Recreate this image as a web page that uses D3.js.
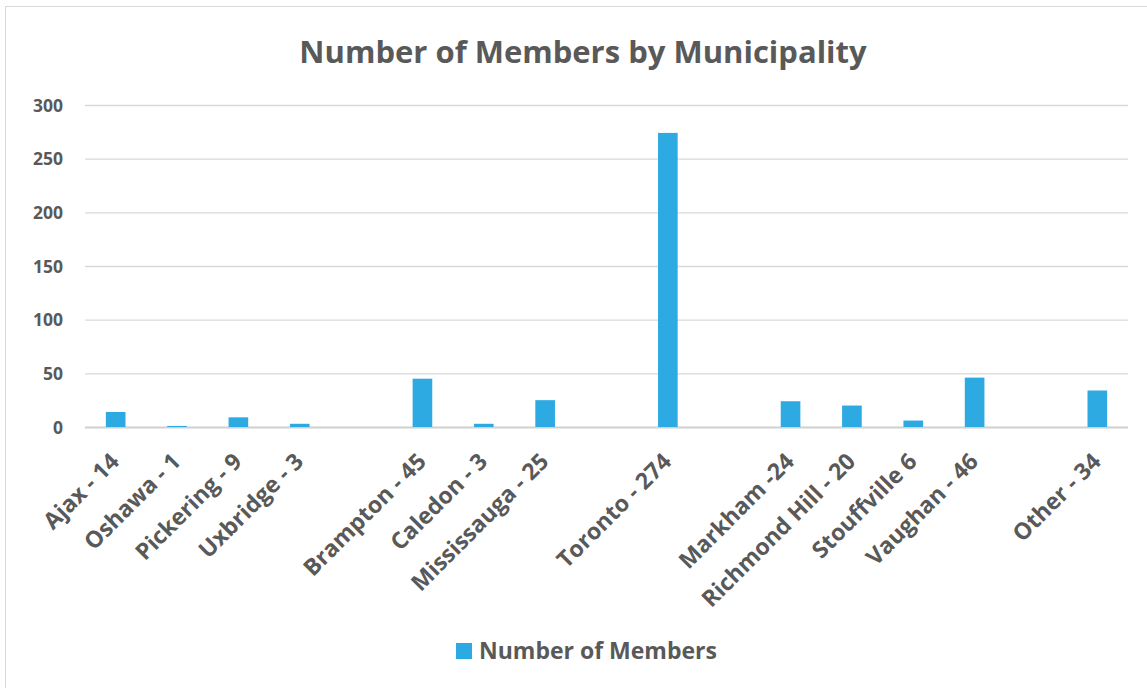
<!DOCTYPE html>
<html>
<head>
<meta charset="utf-8">
<script src="https://cdn.jsdelivr.net/npm/d3@7"></script>
<style>
  body { margin: 0; background: #fff; }
  text { font-family: "Open Sans", sans-serif; font-weight: bold; fill: #595959; }
</style>
</head>
<body>
<div class="wrap"></div>
<script>
// categories (blank slots are the empty gaps on the axis)
const categories = ["Ajax - 14", "Oshawa - 1", "Pickering - 9", "Uxbridge - 3", "",
  "Brampton - 45", "Caledon - 3", "Mississauga - 25", "", "Toronto - 274", "",
  "Markham -24", "Richmond Hill - 20", "Stouffville 6", "Vaughan - 46", "", "Other - 34"];
const members = [14, 1, 9, 3, null, 45, 3, 25, null, 274, null, 24, 20, 6, 46, null, 34];
const yTicks = [0, 50, 100, 150, 200, 250, 300];

const width = 1147, height = 688;
const margin = {left: 85, right: 19, top: 105, bottom: 261};
const barColor = "#2DAAE1";

const svg = d3.select(".wrap").append("svg")
    .attr("width", width)
    .attr("height", height);

// chart border
svg.append("rect")
    .attr("x", 5.5).attr("y", 6.5)
    .attr("width", width - 4).attr("height", height)
    .attr("fill", "none")
    .attr("stroke", "#d9d9d9");

const x = d3.scaleBand()
    .domain(d3.range(categories.length))
    .range([margin.left, width - margin.right])
    .paddingInner(0.68).paddingOuter(0.34);

const y = d3.scaleLinear()
    .domain([0, 300])
    .range([height - margin.bottom, margin.top]);

// grid
svg.append("g")
    .selectAll("line")
    .data(yTicks)
    .join("line")
    .attr("x1", margin.left).attr("x2", width - margin.right)
    .attr("y1", d => y(d) + 0.5).attr("y2", d => y(d) + 0.5)
    .attr("stroke", d => d === 0 ? "#d0d0d0" : "#d9d9d9")
    .attr("stroke-width", d => d === 0 ? 2 : 1.3);

// y labels
const yAxis = d3.axisLeft(y).tickValues(yTicks).tickSize(0).tickPadding(0);
svg.append("g")
    .attr("transform", "translate(63,0)")
    .call(yAxis)
    .call(g => g.select(".domain").remove())
    .selectAll("text")
    .attr("font-size", 17.5)
    .attr("dy", "0.35em")
    .style("font-family", "'Open Sans', sans-serif")
    .attr("fill", "#595959");

// bars
svg.append("g")
    .selectAll("rect")
    .data(members.map((v, i) => ({v, i})).filter(d => d.v !== null))
    .join("rect")
    .attr("x", d => x(d.i))
    .attr("width", x.bandwidth())
    .attr("y", d => y(d.v))
    .attr("height", d => y(0) - y(d.v))
    .attr("fill", barColor);

// x labels rotated
svg.append("g")
    .selectAll("text")
    .data(categories.map((c, i) => ({c, i})).filter(d => d.c !== ""))
    .join("text")
    .attr("transform", d => `translate(${x(d.i) + x.bandwidth() / 2 + 5},${463}) rotate(-45)`)
    .attr("text-anchor", "end")
    .attr("font-size", 23)
    .text(d => d.c);

// title
svg.append("text")
    .attr("x", 583).attr("y", 63)
    .attr("text-anchor", "middle")
    .attr("font-size", 31)
    .text("Number of Members by Municipality");

// legend
const legend = svg.append("g").attr("transform", "translate(456,643)");
legend.append("rect")
    .attr("width", 16).attr("height", 16)
    .attr("fill", barColor);
legend.append("text")
    .attr("x", 23).attr("y", 16)
    .attr("font-size", 23)
    .text("Number of Members");
</script>
</body>
</html>
